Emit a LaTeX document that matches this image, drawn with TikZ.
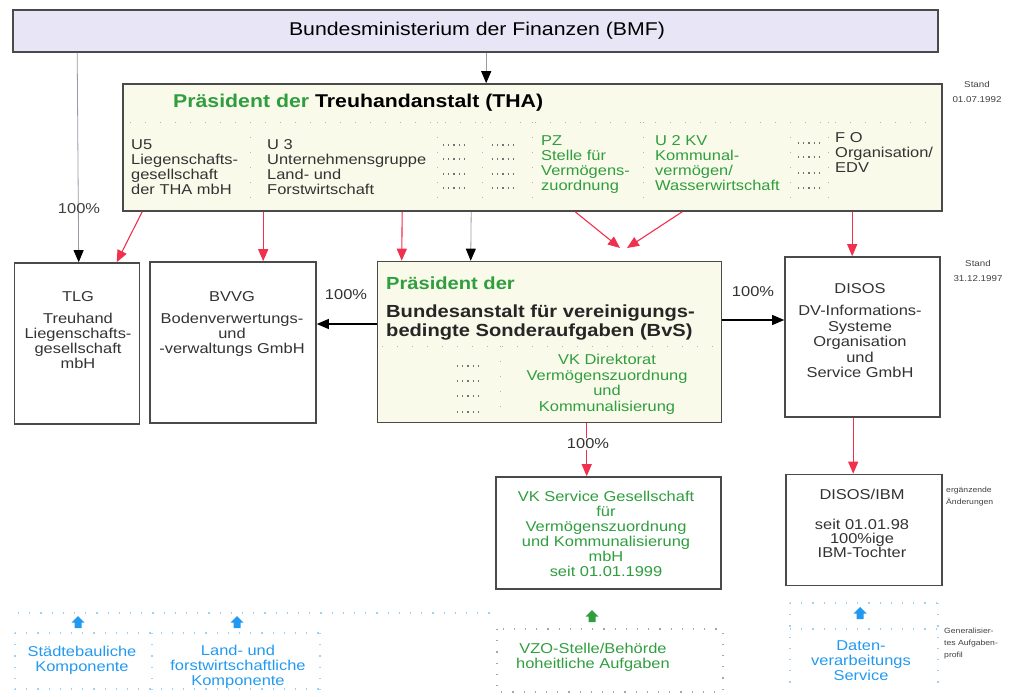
\documentclass[tikz,border=0pt]{standalone}
\usepackage{fontspec}
\setmainfont{Liberation Sans}[FakeStretch=1.15]
\usetikzlibrary{arrows.meta}
\definecolor{pgreen}{HTML}{2E9E3E}
\definecolor{pred}{HTML}{F0304C}
\definecolor{pblue}{HTML}{2299F0}
\definecolor{boxline}{HTML}{4A4A4A}
\definecolor{bmffill}{HTML}{E8E6F6}
\definecolor{creamfill}{HTML}{FAFAEA}
\definecolor{conngray}{HTML}{9A9AA6}
\begin{document}
\begin{tikzpicture}[x=1pt,y=-1pt,
  box/.style={draw=boxline,line width=1.6pt,inner sep=0pt,fill=white},
  body/.style={font=\fontsize{14.3}{15}\selectfont,inner sep=0pt},
  bodyc/.style={body,align=center,anchor=north},
  bodyl/.style={body,align=left,anchor=north west},
  title/.style={font=\bfseries\fontsize{18.5}{19}\selectfont,inner sep=0pt},
  note/.style={font=\fontsize{8.5}{15}\selectfont,inner sep=0pt,align=center,anchor=north,text=black!75},
  smallnote/.style={font=\fontsize{7.5}{12}\selectfont,inner sep=0pt,align=left,anchor=north west,text=black!75},
  blackarr/.style={draw=black,line width=1.1pt,-{Triangle[width=10pt,length=12pt]}},
  grayarr/.style={draw=conngray,line width=0.8pt,-{Triangle[width=10pt,length=12pt,fill=black,color=black]}},
  redarr/.style={draw=pred,line width=1.1pt,-{Triangle[width=10pt,length=12pt]}},
  dotrow/.style={draw=black!55,line width=1.1pt,dash pattern=on 1.2pt off 4pt},
  faintdots/.style={draw=black!30,line width=1pt,dash pattern=on 1pt off 14pt},
  bluedots/.style={draw=pblue!45,line width=1.2pt,dash pattern=on 1.2pt off 10pt},
  greydots/.style={draw=black!35,line width=1.2pt,dash pattern=on 1.2pt off 10pt}
]
\useasboundingbox (0,0) rectangle (1014,696);

% ---------------- boxes ----------------
\node[box,fill=bmffill,minimum width=925pt,minimum height=42pt] (bmf) at (475.5,31) {};
\node[box,fill=creamfill,minimum width=819pt,minimum height=127pt] (tha) at (532.5,147.5) {};
\node[box,minimum width=125pt,minimum height=161pt] (tlg) at (77,343.5) {};
\node[box,minimum width=166pt,minimum height=161pt] (bvvg) at (233,342.5) {};
\node[box,fill=creamfill,minimum width=344pt,minimum height=161pt] (bvs) at (549.5,342) {};
\node[box,minimum width=155pt,minimum height=160pt] (disos) at (862.5,337) {};
\node[box,minimum width=225pt,minimum height=112pt] (vks) at (608.5,533) {};
\node[box,minimum width=156pt,minimum height=111pt] (ibm) at (864,530) {};

% ---------------- BMF ----------------
\node[font=\fontsize{18.5}{20}\selectfont,inner sep=0pt] (bmft) at (477,31) {Bundesministerium der Finanzen (BMF)};

% ---------------- THA content ----------------
\draw[faintdots] (130,122) -- (938,122);
\foreach \xx in {250,437,482,532,643,790,828} {\draw[faintdots] (\xx,122) -- (\xx,208);}
\node[title,anchor=west] (thatitle) at (173,103) {\textcolor{pgreen}{Präsident der} Treuhandanstalt (THA)};
\node[bodyl,text=black!80] (u5) at (131,139) {U5\\Liegenschafts-\\gesellschaft\\der THA mbH};
\node[bodyl,text=black!80] (u3) at (267,139) {U 3\\Unternehmensgruppe\\Land- und\\Forstwirtschaft};
\node[bodyl,text=pgreen] (pz) at (541,135) {PZ\\Stelle für\\Vermögens-\\zuordnung};
\node[bodyl,text=pgreen] (u2kv) at (655,135) {U 2 KV\\Kommunal-\\vermögen/\\Wasserwirtschaft};
\node[bodyl,text=black!80] (fo) at (835,132) {F O\\Organisation/\\EDV};
\foreach \yy in {145,159,174,188} {
  \draw[dotrow] (443,\yy) -- (466,\yy);
  \draw[dotrow] (492,\yy) -- (515,\yy);
}
\foreach \yy in {143,157,173,188} {\draw[dotrow] (798,\yy) -- (821,\yy);}
\node[note] (stand1) at (977,81) {Stand\\01.07.1992};

% ---------------- BvS content ----------------
\draw[faintdots] (382,346) -- (718,346);
\draw[faintdots] (500,346) -- (500,420);
\node[font=\bfseries\fontsize{17.5}{19}\selectfont,inner sep=0pt,anchor=west,text=pgreen] (bvspres) at (386,283) {Präsident der};
\node[font=\bfseries\fontsize{17.5}{19}\selectfont,inner sep=0pt,anchor=north west,align=left,text=black!85] (bvstitle) at (386,305) {Bundesanstalt für vereinigungs-\\bedingte Sonderaufgaben (BvS)};
\foreach \yy in {366,381,396,412} {\draw[dotrow] (457,\yy) -- (480,\yy);}
\node[bodyc,text=pgreen,font=\fontsize{14.3}{15.7}\selectfont] (vkdir) at (607,354) {VK Direktorat\\Vermögenszuordnung\\und\\Kommunalisierung};

% ---------------- other box texts ----------------
\node[bodyc,text=black!80] (tlgt) at (78,291) {TLG\\[7pt]Treuhand\\Liegenschafts-\\gesellschaft\\mbH};
\node[bodyc,text=black!80] (bvvgt) at (232,291) {BVVG\\[7pt]Bodenverwertungs-\\und\\-verwaltungs GmbH};
\node[bodyc,text=black!80,font=\fontsize{14.3}{15.5}\selectfont] (disost) at (860,283) {DISOS\\[7pt]DV-Informations-\\Systeme\\Organisation\\und\\Service GmbH};
\node[note] (stand2) at (978,260) {Stand\\31.12.1997};
\node[bodyc,text=pgreen] (vkst) at (606,491) {VK Service Gesellschaft\\für\\Vermögenszuordnung\\und Kommunalisierung\\mbH\\seit 01.01.1999};
\node[bodyc,text=black!80,font=\fontsize{14.3}{14}\selectfont] (ibmt) at (862,489) {DISOS/IBM\\[16pt]seit 01.01.98\\100\%ige\\IBM-Tochter};
\node[smallnote] (ergaenz) at (946,487) {ergänzende\\Änderungen};

% ---------------- connectors ----------------
\draw[grayarr] ([xshift=474pt]bmf.south west) -- ([xshift=364pt]tha.north west);
\draw[grayarr] ([xshift=65pt]bmf.south west) -- ([xshift=65pt]tlg.north west);
\node[body,text=black!75] (p1) at (79,209) {100\%};
\draw[redarr] ([xshift=20pt]tha.south west) -- ([xshift=103pt]tlg.north west);
\draw[redarr] ([xshift=141pt]tha.south west) -- ([xshift=114pt]bvvg.north west);
\draw[redarr] ([xshift=280pt]tha.south west) -- ([xshift=25pt]bvs.north west);
\draw[grayarr] ([xshift=349pt]tha.south west) -- ([xshift=94pt]bvs.north west);
\coordinate (conva) at (620,248);
\coordinate (convb) at (627,248);
\draw[redarr] ([xshift=453pt]tha.south west) -- (conva);
\draw[redarr] ([xshift=560pt]tha.south west) -- (convb);
\draw[redarr] ([xshift=730pt]tha.south west) -- ([xshift=68pt]disos.north west);

\coordinate (bvsL) at ([yshift=18pt]bvs.west);
\draw[blackarr] (bvsL) -- (bvsL -| bvvg.east);
\node[body,text=black!80] (p2) at (346,295) {100\%};
\coordinate (bvsR) at ([yshift=22pt]bvs.east);
\draw[blackarr] (bvsR) -- (bvsR -| disos.west);
\node[body,text=black!80] (p3) at (753,292) {100\%};
\coordinate (bvsB) at ([xshift=210pt]bvs.south west);
\draw[redarr] (bvsB) -- (bvsB |- vks.north);
\node[body,text=black!80,fill=white,inner sep=1pt] (p4) at (588,444) {100\%};
\coordinate (disB) at ([xshift=69pt]disos.south west);
\draw[redarr] (disB) -- (disB |- ibm.north);

% ---------------- bottom components ----------------
\draw[bluedots] (18,613) -- (495,613);
\draw[bluedots] (15,633) -- (320,633);
\draw[bluedots] (15,633) -- (15,690);
\draw[bluedots] (152,633) -- (152,690);
\draw[bluedots] (320,633) -- (320,690);
\draw[bluedots] (15,689) -- (320,689);
\draw[greydots] (497,629) rectangle (723,692);
\draw[bluedots] (790,603) -- (938,603);
\draw[bluedots] (790,629) -- (938,629);
\draw[bluedots] (790,603) -- (790,692);
\draw[bluedots] (938,603) -- (938,692);

\foreach \px/\py/\pc in {78/623/pblue,237/623/pblue,592/617/pgreen,860/614/pblue} {
  \fill[\pc,shift={(\px,\py)}] (0,-7) -- (6.5,-0.5) -- (3.5,-0.5) -- (3.5,5) -- (-3.5,5) -- (-3.5,-0.5) -- (-6.5,-0.5) -- cycle;
}
\node[bodyc,text=pblue] (staedt) at (82,646) {Städtebauliche\\Komponente};
\node[bodyc,text=pblue] (landf) at (238,645) {Land- und\\forstwirtschaftliche\\Komponente};
\node[bodyc,text=pgreen] (vzo) at (593,643) {VZO-Stelle/Behörde\\hoheitliche Aufgaben};
\node[bodyc,text=pblue] (daten) at (861,640) {Daten-\\verarbeitungs\\Service};
\node[smallnote] (general) at (944,628) {Generalisier-\\tes Aufgaben-\\profil};
\end{tikzpicture}
\end{document}
